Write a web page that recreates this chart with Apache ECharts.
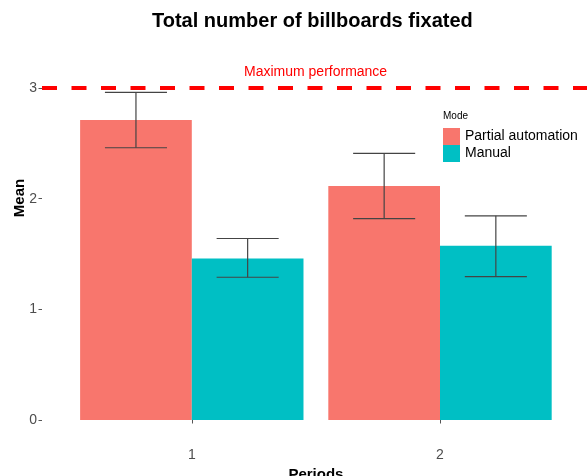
<!DOCTYPE html>
<html><head><meta charset="utf-8">
<script src="https://cdn.jsdelivr.net/npm/echarts@6/dist/echarts.min.js"></script>
<style>html,body{margin:0;padding:0;background:#fff}#c{width:587px;height:476px}</style>
</head><body><div id="c"></div>
<script>
const periods = ['1', '2'];
const seriesNames = ['Partial automation', 'Manual'];
const partialMean = [2.71, 2.115];
const partialLow = [2.46, 1.82];
const partialHigh = [2.96, 2.41];
const manualMean = [1.46, 1.575];
const manualLow = [1.29, 1.295];
const manualHigh = [1.64, 1.845];
const yTicks = [0, 1, 2, 3];
const maxPerformance = 3;

const FONT = '"Liberation Sans", Arial, sans-serif';
const chart = echarts.init(document.getElementById('c'), null, {renderer: 'canvas'});

function errorSeries(low, high, side) {
  return {
    type: 'custom', xAxisIndex: 0, yAxisIndex: 0, silent: true, z: 5,
    data: periods.map((p, i) => [i, low[i], high[i]]),
    renderItem: function (params, api) {
      const c = api.value(0);
      const band = api.size([1, 0])[0];
      const lo = api.coord([c, api.value(1)]);
      const hi = api.coord([c, api.value(2)]);
      const x = lo[0] + side * band * 0.225;
      const hw = band * 0.125;
      const style = {stroke: '#444', lineWidth: 1.2, fill: null};
      return {type: 'group', children: [
        {type: 'line', shape: {x1: x, y1: hi[1], x2: x, y2: lo[1]}, style: style},
        {type: 'line', shape: {x1: x - hw, y1: hi[1], x2: x + hw, y2: hi[1]}, style: style},
        {type: 'line', shape: {x1: x - hw, y1: lo[1], x2: x + hw, y2: lo[1]}, style: style}
      ]};
    }
  };
}

const option = {
  backgroundColor: '#fff',
  animation: false,
  textStyle: {fontFamily: FONT},
  title: [
    {text: 'Total number of billboards fixated', left: 147, top: 6,
     textStyle: {fontFamily: FONT, fontSize: 20, fontWeight: 'bold', color: '#000'}},
    {text: 'Maximum performance', left: 239, top: 60,
     textStyle: {fontFamily: FONT, fontSize: 14, fontWeight: 'normal', color: '#ff0000'}},
    {text: 'Mode', left: 438, top: 106,
     textStyle: {fontFamily: FONT, fontSize: 10, fontWeight: 'normal', color: '#000'}}
  ],
  legend: {
    data: seriesNames, orient: 'vertical', left: 438, top: 123,
    itemWidth: 17, itemHeight: 17, itemGap: 0, icon: 'rect',
    textStyle: {fontFamily: FONT, fontSize: 14, color: '#000'}
  },
  grid: [
    {left: 67.7, right: 22.9, top: 88, bottom: 56, outerBoundsMode: 'none', containLabel: false},
    {left: 42, right: -2, top: 88, bottom: 56, outerBoundsMode: 'none', containLabel: false}
  ],
  xAxis: [
    {type: 'category', gridIndex: 0, data: periods, offset: 21,
     axisLine: {show: false},
     axisTick: {show: true, alignWithLabel: true, length: 3.5, lineStyle: {color: '#555'}},
     axisLabel: {fontFamily: FONT, fontSize: 14, color: '#4d4d4d', margin: 7},
     splitLine: {show: false},
     name: 'Periods', nameLocation: 'middle', nameGap: 18,
     nameTextStyle: {fontFamily: FONT, fontSize: 15, fontWeight: 'bold', color: '#000'}},
    {type: 'value', gridIndex: 1, min: 0, max: 1, show: false}
  ],
  yAxis: [
    {type: 'value', gridIndex: 0, min: 0, max: 3, interval: 1, show: false},
    {type: 'value', gridIndex: 1, min: 0, max: 3, interval: 1,
     axisLine: {show: false},
     axisTick: {show: true, length: 3.5, lineStyle: {color: '#555'}},
     axisLabel: {fontFamily: FONT, fontSize: 14, color: '#4d4d4d', margin: 5,
       customValues: yTicks},
     splitLine: {show: false}}
  ],
  graphic: [
    {type: 'text', x: 20, y: 198, rotation: Math.PI / 2,
     style: {text: 'Mean', font: 'bold 15px "Liberation Sans", Arial, sans-serif',
       fill: '#000', textAlign: 'center', textVerticalAlign: 'middle'}}
  ],
  series: [
    {name: seriesNames[0], type: 'bar', xAxisIndex: 0, yAxisIndex: 0,
     data: partialMean, barWidth: '45%', barGap: '0%',
     itemStyle: {color: '#F8766D'}},
    {name: seriesNames[1], type: 'bar', xAxisIndex: 0, yAxisIndex: 0,
     data: manualMean, barWidth: '45%', barGap: '0%',
     itemStyle: {color: '#00BFC4'}},
    errorSeries(partialLow, partialHigh, -1),
    errorSeries(manualLow, manualHigh, 1),
    {type: 'line', xAxisIndex: 1, yAxisIndex: 1, silent: true, z: 6,
     data: [[0, maxPerformance], [1, maxPerformance]], symbol: 'none',
     lineStyle: {color: '#ff0000', width: 4, type: [15, 14.5]}}
  ]
};
chart.setOption(option);
</script></body></html>
